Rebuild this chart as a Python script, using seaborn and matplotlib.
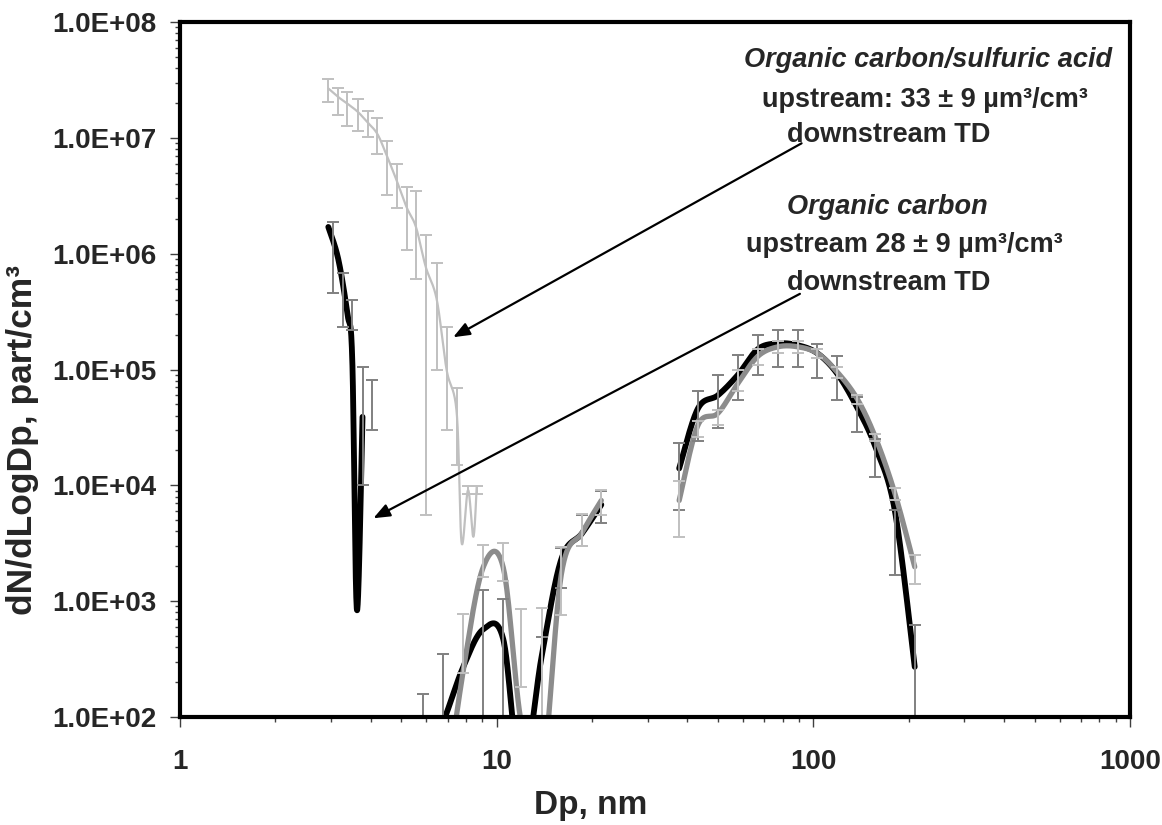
import numpy as np
import pandas as pd
import matplotlib
matplotlib.use("Agg")
import matplotlib.pyplot as plt
import seaborn as sns
from matplotlib.ticker import FixedLocator, FuncFormatter, LogLocator, NullFormatter

nan = np.nan

# Organic carbon / sulfuric acid, downstream TD: nucleation mode (thin light grey)
ocsa_nuc_dp = [2.94, 3.16, 3.38, 3.64, 3.91, 4.20, 4.49, 4.83, 5.20, 5.56, 5.97,
               6.47, 6.95, 7.48, 7.75, 8.12, 8.44, 8.65]
ocsa_nuc_dn = [2.67e7, 2.25e7, 1.97e7, 1.68e7, 1.36e7, 1.08e7, 7.1e6, 4.3e6, 2.5e6,
               1.7e6, 7.7e5, 4.0e5, 9.9e4, 4.2e4, 3.2e3, 9.1e3, 3.6e3, 9.8e3]
ocsa_nuc_bar_dp = [2.94, 3.16, 3.38, 3.64, 3.91, 4.20, 4.49, 4.83, 5.20, 5.56, 5.97,
                   6.47, 6.95, 7.48, 8.12, 8.65]
ocsa_nuc_bar_lo = [2.04e7, 1.57e7, 1.27e7, 1.15e7, 1.01e7, 7.2e6, 3.2e6, 2.46e6, 1.07e6,
                   6.0e5, 5.5e3, 1.0e5, 3.0e4, 1.5e4, 8.4e3, 8.4e3]
ocsa_nuc_bar_hi = [3.22e7, 2.71e7, 2.50e7, 2.15e7, 1.71e7, 1.47e7, 9.4e6, 5.9e6, 3.8e6,
                   3.47e6, 1.45e6, 8.3e5, 2.34e5, 6.95e4, 9.8e3, 9.8e3]

# Organic carbon, downstream TD (thick black); nan separates the curve pieces
oc_dp = [2.94, 3.16, 3.38, 3.50, 3.62, 3.77, nan,
         5.87, 6.77, 7.84, 9.06, 10.49, 11.95, 13.86, 16.0, 18.6, 21.4, nan,
         37.7, 43.2, 50.0, 57.8, 66.8, 77.3, 89.3, 103, 119, 137.5, 157, 181, 209]
oc_dn = [1.7e6, 9.0e5, 3.0e5, 1.2e5, 8.4e2, 3.9e4, nan,
         40, 90, 270, 570, 470, 30, 330, 2300, 3850, 6800, nan,
         1.4e4, 4.6e4, 6.0e4, 9.0e4, 1.5e5, 1.68e5, 1.62e5, 1.38e5, 9.2e4, 4.7e4,
         2.15e4, 6.0e3, 271]
oc_bar_dp = [3.05, 3.28, 3.50, 3.77, 4.05, 5.87, 6.77, 9.06, 10.49, 13.86, 16.0, 18.6,
             21.4, 37.7, 43.2, 50.0, 57.8, 66.8, 77.3, 89.3, 103, 119, 137.5, 157, 181, 209]
oc_bar_lo = [4.6e5, 2.34e5, 2.2e5, 1.0e4, 3.0e4, 0, 0, 0, 0, 0, 1300, 3000,
             4700, 6.1e3, 2.4e4, 3.1e4, 5.4e4, 8.9e4, 1.06e5, 1.06e5, 8.4e4, 5.4e4,
             2.9e4, 1.17e4, 1.68e3, 0]
oc_bar_hi = [1.89e6, 6.8e5, 4.0e5, 1.05e5, 8.1e4, 157, 349, 1240, 1050, 490, 2900, 5500,
             8900, 2.3e4, 6.5e4, 8.9e4, 1.33e5, 2.0e5, 2.2e5, 2.2e5, 1.66e5, 1.3e5,
             5.8e4, 2.5e4, 6.1e3, 621]

# Organic carbon / sulfuric acid, downstream TD (thick grey)
ocsa_dp = [6.77, 7.84, 9.06, 10.49, 11.95, 13.86, 16.0, 18.6, 21.4, nan,
           37.7, 43.2, 50.0, 57.8, 66.8, 77.3, 89.3, 103, 119, 137.5, 157, 181, 209]
ocsa_dn = [15, 250, 1950, 1950, 90, 30, 1700, 3900, 7400, nan,
           7.4e3, 3.3e4, 4.2e4, 7.6e4, 1.3e5, 1.57e5, 1.57e5, 1.38e5, 9.5e4, 5.6e4,
           2.6e4, 8.5e3, 1.98e3]
ocsa_bar_dp = [7.84, 9.06, 10.49, 11.95, 13.86, 16.0, 18.6, 21.4, 37.7, 43.2, 50.0,
               57.8, 66.8, 77.3, 89.3, 103, 119, 137.5, 157, 181, 209]
ocsa_bar_lo = [240, 1620, 1500, 182, 0, 760, 3000, 5500, 3.6e3, 2.6e4, 3.3e4,
               6.5e4, 1.1e5, 1.4e5, 1.4e5, 1.25e5, 8.5e4, 5.0e4, 2.4e4, 7.5e3, 1.4e3]
ocsa_bar_hi = [780, 3050, 3200, 849, 865, 2950, 5700, 9100, 1.1e4, 3.6e4, 4.5e4,
               1.0e5, 1.5e5, 1.75e5, 1.75e5, 1.5e5, 1.05e5, 6.0e4, 2.8e4, 9.5e3, 2.5e3]

x_ticks = [1, 10, 100, 1000]
x_tick_labels = ["1", "10", "100", "1000"]


def smooth_curve(dp, dn, n=30):
    """Smoothed (Bezier / Catmull-Rom) curve in log-log space, one id per piece."""
    dp = np.asarray(dp, float)
    dn = np.asarray(dn, float)
    runs, cur = [], []
    for i, v in enumerate(dp):
        if np.isnan(v):
            if cur:
                runs.append(cur)
            cur = []
        else:
            cur.append(i)
    if cur:
        runs.append(cur)
    frames = []
    for k, idx in enumerate(runs):
        P = np.column_stack([np.log10(dp[idx]), np.log10(dn[idx])])
        m = len(P)
        parts = []
        for i in range(m - 1):
            p0, p1, p2, p3 = P[max(i - 1, 0)], P[i], P[i + 1], P[min(i + 2, m - 1)]
            c1 = p1 + (p2 - p0) / 6.0
            c2 = p2 - (p3 - p1) / 6.0
            t = np.linspace(0, 1, n, endpoint=(i == m - 2))[:, None]
            parts.append((1 - t) ** 3 * p1 + 3 * (1 - t) ** 2 * t * c1
                         + 3 * (1 - t) * t ** 2 * c2 + t ** 3 * p2)
        pts = np.vstack(parts)
        frames.append(pd.DataFrame({"dp": 10 ** pts[:, 0], "dn": 10 ** pts[:, 1], "seg": k}))
    return pd.concat(frames, ignore_index=True)


def draw_bars(ax, dp, lo, hi, color, z):
    lo = np.asarray(lo, float)
    hi = np.asarray(hi, float)
    mid = (lo + hi) / 2.0
    ax.errorbar(dp, mid, yerr=[mid - lo, hi - mid], fmt="none", ecolor=color,
                elinewidth=1.4, capsize=4.0, capthick=1.4, zorder=z)


def x_label_for(v, pos):
    key = int(round(v))
    return x_tick_labels[x_ticks.index(key)] if key in x_ticks else ""


sns.set_style("white")
plt.rcParams["font.family"] = ["Liberation Sans", "DejaVu Sans"]
plt.rcParams["font.weight"] = "bold"

fig = plt.figure(figsize=(11.62, 8.25), dpi=100)
ax = fig.add_axes([180 / 1162, 1 - 717 / 825, 950 / 1162, 695 / 825])
ax.set_xscale("log")
ax.set_yscale("log")

line_kw = dict(x="dp", y="dn", units="seg", estimator=None, sort=False, legend=False,
               ax=ax, solid_capstyle="round", solid_joinstyle="round")
sns.lineplot(data=smooth_curve(ocsa_nuc_dp, ocsa_nuc_dn), color="#c0c0c0",
             linewidth=1.6, zorder=2, **line_kw)
sns.lineplot(data=smooth_curve(oc_dp, oc_dn), color="black", linewidth=4.2,
             zorder=3, **line_kw)
sns.lineplot(data=smooth_curve(ocsa_dp, ocsa_dn), color="#8c8c8c", linewidth=3.8,
             zorder=3.5, **line_kw)

draw_bars(ax, ocsa_nuc_bar_dp, ocsa_nuc_bar_lo, ocsa_nuc_bar_hi, "#c0c0c0", 4)
draw_bars(ax, oc_bar_dp, oc_bar_lo, oc_bar_hi, "#808080", 4.2)
draw_bars(ax, ocsa_bar_dp, ocsa_bar_lo, ocsa_bar_hi, "#c0c0c0", 4.4)

ax.set_xlim(1, 1000)
ax.set_ylim(1e2, 1e8)

ax.xaxis.set_major_locator(FixedLocator(x_ticks))
ax.xaxis.set_major_formatter(FuncFormatter(x_label_for))
ax.xaxis.set_minor_locator(LogLocator(base=10, subs=np.arange(2, 10)))
ax.xaxis.set_minor_formatter(NullFormatter())
ax.yaxis.set_major_locator(LogLocator(base=10, numticks=10))
ax.yaxis.set_major_formatter(FuncFormatter(lambda v, p: f"{v:.1E}"))
ax.yaxis.set_minor_locator(LogLocator(base=10, subs=np.arange(2, 10), numticks=20))
ax.yaxis.set_minor_formatter(NullFormatter())

ax.tick_params(axis="both", which="major", direction="out", length=7, width=1,
               color="#404040", labelsize=20)
ax.tick_params(axis="both", which="minor", direction="out", length=3.6, width=1,
               color="#404040")
ax.tick_params(axis="x", which="major", pad=16)
ax.tick_params(axis="y", which="major", pad=10)
ax.tick_params(left=True, bottom=True, which="both")
for lab in ax.get_xticklabels() + ax.get_yticklabels():
    lab.set_fontweight("bold")

for sp in ax.spines.values():
    sp.set_linewidth(3)
    sp.set_color("black")
    sp.set_zorder(6)

ax.set_xlabel("Dp, nm", fontsize=24, fontweight="bold", va="center")
ax.set_ylabel("dN/dLogDp, part/cm³", fontsize=25.5, fontweight="bold", va="center")
ax.xaxis.set_label_coords(0.432, -0.127)
ax.yaxis.set_label_coords(-0.166, 0.399)

txt = dict(transform=ax.transAxes, ha="center", va="center", fontsize=19.5,
           fontweight="bold", zorder=7)
ax.text(0.787, 0.945, "Organic carbon/sulfuric acid", style="italic", **txt)
ax.text(0.784, 0.888, "upstream: 33 ± 9 µm³/cm³", **txt)
ax.text(0.746, 0.837, "downstream TD", **txt)
ax.text(0.745, 0.734, "Organic carbon", style="italic", **txt)
ax.text(0.763, 0.679, "upstream 28 ± 9 µm³/cm³", **txt)
ax.text(0.746, 0.624, "downstream TD", **txt)

arrow = dict(arrowstyle="-|>,head_length=0.55,head_width=0.22", color="black",
             lw=1.6, mutation_scale=18, shrinkA=0, shrinkB=0)
ax.annotate("", xy=(7.29, 1.9e5), xytext=(91.8, 8.97e6), arrowprops=arrow, zorder=7)
ax.annotate("", xy=(4.08, 5.2e3), xytext=(90.7, 4.5e5), arrowprops=arrow, zorder=7)

fig.savefig("out.png", dpi=100, facecolor="white")
